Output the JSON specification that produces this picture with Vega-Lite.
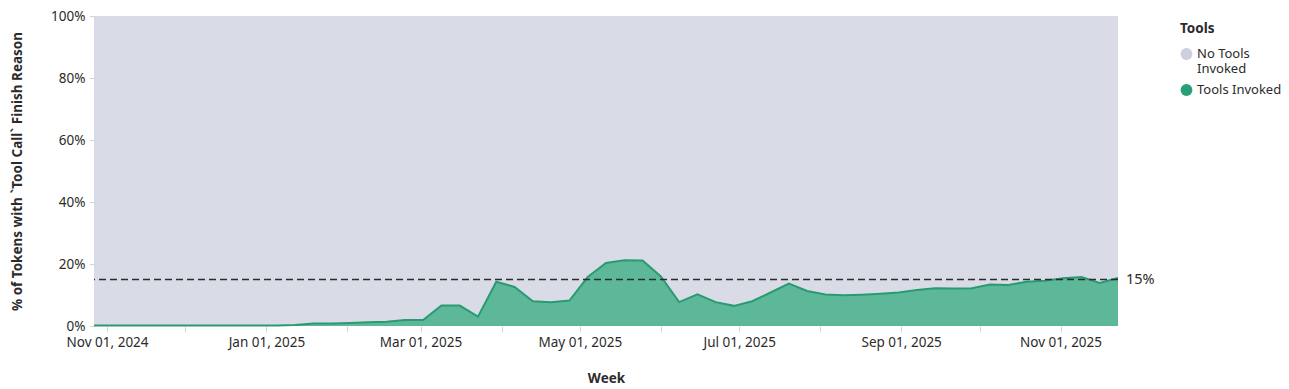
{
  "$schema": "https://vega.github.io/schema/vega-lite/v6.json",
  "autosize": {"type": "none"},
  "width": 1024,
  "height": 310,
  "padding": {"left": 94, "top": 16, "right": 171, "bottom": 63},
  "background": "white",
  "config": {
    "font": "Noto Sans",
    "view": {"stroke": null},
    "axis": {
      "labelFontSize": 13.5,
      "labelColor": "#2b2b2b",
      "titleFontSize": 13.5,
      "titleFontWeight": "bold",
      "titleColor": "#2b2b2b",
      "tickColor": "#d4d6dc",
      "domain": false,
      "gridColor": "#ffffff",
      "gridOpacity": 0.4,
      "zindex": 1
    },
    "legend": {
      "titleFontSize": 13.5,
      "titleFontWeight": "bold",
      "titleColor": "#2b2b2b",
      "labelFontSize": 13,
      "labelColor": "#2b2b2b",
      "symbolType": "circle",
      "symbolSize": 140,
      "symbolOpacity": 1,
      "symbolStrokeWidth": 0,
      "offset": 56,
      "padding": 6,
      "rowPadding": 7,
      "titlePadding": 12
    }
  },
  "datasets": {
    "weekly": [
      {"week": "2024-10-27", "tools": 0.002},
      {"week": "2024-11-03", "tools": 0.002},
      {"week": "2024-11-10", "tools": 0.002},
      {"week": "2024-11-17", "tools": 0.002},
      {"week": "2024-11-24", "tools": 0.002},
      {"week": "2024-12-01", "tools": 0.002},
      {"week": "2024-12-08", "tools": 0.002},
      {"week": "2024-12-15", "tools": 0.002},
      {"week": "2024-12-22", "tools": 0.002},
      {"week": "2024-12-29", "tools": 0.002},
      {"week": "2025-01-05", "tools": 0.002},
      {"week": "2025-01-12", "tools": 0.003},
      {"week": "2025-01-19", "tools": 0.008},
      {"week": "2025-01-26", "tools": 0.008},
      {"week": "2025-02-02", "tools": 0.010},
      {"week": "2025-02-09", "tools": 0.012},
      {"week": "2025-02-16", "tools": 0.014},
      {"week": "2025-02-23", "tools": 0.019},
      {"week": "2025-03-02", "tools": 0.019},
      {"week": "2025-03-09", "tools": 0.066},
      {"week": "2025-03-16", "tools": 0.066},
      {"week": "2025-03-23", "tools": 0.030},
      {"week": "2025-03-30", "tools": 0.143},
      {"week": "2025-04-06", "tools": 0.126},
      {"week": "2025-04-13", "tools": 0.080},
      {"week": "2025-04-20", "tools": 0.077},
      {"week": "2025-04-27", "tools": 0.082},
      {"week": "2025-05-04", "tools": 0.158},
      {"week": "2025-05-11", "tools": 0.203},
      {"week": "2025-05-18", "tools": 0.212},
      {"week": "2025-05-25", "tools": 0.211},
      {"week": "2025-06-01", "tools": 0.160},
      {"week": "2025-06-08", "tools": 0.077},
      {"week": "2025-06-15", "tools": 0.102},
      {"week": "2025-06-22", "tools": 0.077},
      {"week": "2025-06-29", "tools": 0.065},
      {"week": "2025-07-06", "tools": 0.080},
      {"week": "2025-07-13", "tools": 0.108},
      {"week": "2025-07-20", "tools": 0.137},
      {"week": "2025-07-27", "tools": 0.113},
      {"week": "2025-08-03", "tools": 0.102},
      {"week": "2025-08-10", "tools": 0.099},
      {"week": "2025-08-17", "tools": 0.101},
      {"week": "2025-08-24", "tools": 0.104},
      {"week": "2025-08-31", "tools": 0.108},
      {"week": "2025-09-07", "tools": 0.116},
      {"week": "2025-09-14", "tools": 0.122},
      {"week": "2025-09-21", "tools": 0.121},
      {"week": "2025-09-28", "tools": 0.122},
      {"week": "2025-10-05", "tools": 0.134},
      {"week": "2025-10-12", "tools": 0.132},
      {"week": "2025-10-19", "tools": 0.143},
      {"week": "2025-10-26", "tools": 0.146},
      {"week": "2025-11-02", "tools": 0.154},
      {"week": "2025-11-09", "tools": 0.158},
      {"week": "2025-11-16", "tools": 0.139},
      {"week": "2025-11-23", "tools": 0.155}
    ],
    "threshold": [
      {"week": "2025-11-23", "value": 0.15, "label": "15%"}
    ]
  },
  "data": {"name": "weekly"},
  "encoding": {
    "x": {
      "field": "week",
      "type": "temporal",
      "title": "Week",
      "scale": {"type": "utc", "nice": false},
      "axis": {
        "tickCount": {"interval": "month", "step": 1},
        "labelExpr": "utcmonth(datum.value) % 2 == 0 ? utcFormat(datum.value, '%b %d, %Y') : ''",
        "labelOverlap": false,
        "labelPadding": 3,
        "titlePadding": 23,
        "tickSize": 6
      }
    }
  },
  "layer": [
    {
      "mark": {"type": "area", "fillOpacity": 0.75},
      "encoding": {
        "y": {
          "field": "tools",
          "type": "quantitative",
          "title": "% of Tokens with `Tool Call` Finish Reason",
          "scale": {"domain": [0, 1], "nice": false},
          "axis": {
            "values": [0, 0.2, 0.4, 0.6, 0.8, 1],
            "format": ".0%",
            "tickSize": 5,
            "labelPadding": 4,
            "titlePadding": 26
          }
        },
        "y2": {"datum": 1},
        "color": {
          "datum": "No Tools Invoked",
          "type": "nominal",
          "title": "Tools",
          "scale": {
            "domain": ["No Tools Invoked", "Tools Invoked"],
            "range": ["#ccd0de", "#27a078"]
          },
          "legend": {
            "labelExpr": "datum.label == 'No Tools Invoked' ? ['No Tools', 'Invoked'] : datum.label"
          }
        }
      }
    },
    {
      "mark": {"type": "area", "fillOpacity": 0.75},
      "encoding": {
        "y": {"field": "tools", "type": "quantitative"},
        "color": {"datum": "Tools Invoked", "type": "nominal"}
      }
    },
    {
      "mark": {"type": "line", "color": "#2a9a72", "strokeWidth": 2},
      "encoding": {
        "y": {"field": "tools", "type": "quantitative"}
      }
    },
    {
      "data": {"name": "threshold"},
      "mark": {"type": "rule", "color": "#2b2b2b", "strokeDash": [7, 4], "strokeWidth": 1.5},
      "encoding": {
        "x": null,
        "y": {"field": "value", "type": "quantitative"}
      }
    },
    {
      "data": {"name": "threshold"},
      "mark": {"type": "text", "align": "left", "baseline": "middle", "dx": 8, "fontSize": 14.5, "color": "#2b2b2b"},
      "encoding": {
        "y": {"field": "value", "type": "quantitative"},
        "text": {"field": "label"}
      }
    }
  ]
}
